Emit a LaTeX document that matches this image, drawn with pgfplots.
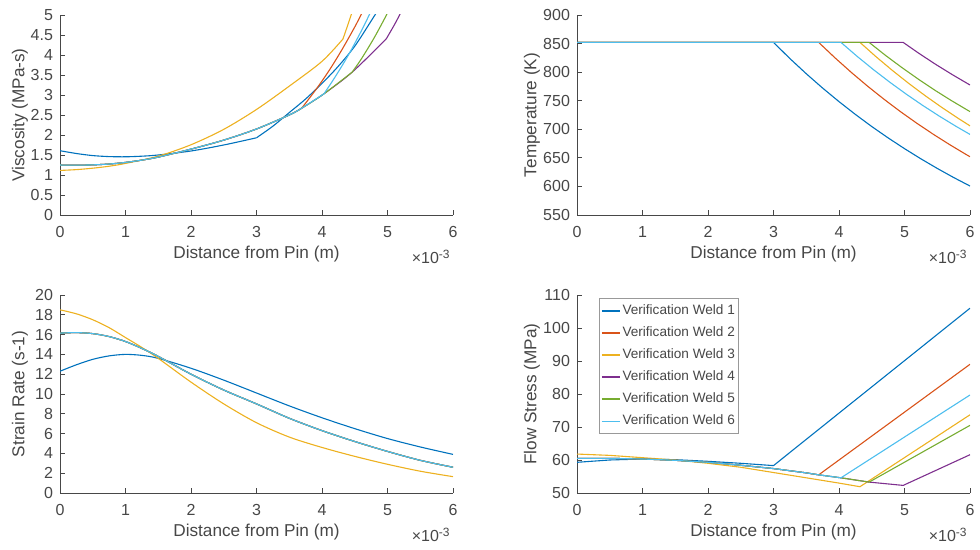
\documentclass[border=0pt]{standalone}
\usepackage{fontspec}
\setmainfont{Liberation Sans}
\usepackage{pgfplots}
\pgfplotsset{compat=1.18}
\definecolor{c1}{rgb}{0,0.447,0.741}
\definecolor{c2}{rgb}{0.850,0.325,0.098}
\definecolor{c3}{rgb}{0.929,0.694,0.125}
\definecolor{c4}{rgb}{0.494,0.184,0.556}
\definecolor{c5}{rgb}{0.466,0.674,0.188}
\definecolor{c6}{rgb}{0.301,0.745,0.933}
\definecolor{axc}{rgb}{0.28,0.28,0.28}
\pgfplotsset{
  mstyle/.style={
    scale only axis, width=196.5pt, height=100pt, anchor=south west,
    axis lines=left, axis line style={-, draw=axc, line width=0.4pt},
    tick align=inside, tick style={draw=axc, line width=0.4pt}, major tick length=2.5pt,
    xmin=0, xmax=6, xtick={0,1,2,3,4,5,6},
    tick label style={font=\fontsize{8}{9.5}\selectfont, text=axc},
    label style={font=\fontsize{8.6}{10}\selectfont, text=axc},
    /pgf/number format/assume math mode=true,
    xlabel={Distance from Pin (m)},
    xlabel style={at={(rel axis cs:0.5,-0.197)}, anchor=center},
    every axis plot/.append style={line width=0.55pt},
    xticklabel style={yshift=-2pt},
  },
}
\newcommand{\scalelab}[1]{\node[anchor=east, inner sep=0pt, font=\fontsize{8}{9.5}\selectfont, text=axc] at ([yshift=-21pt,xshift=-1pt]#1.south east) {×10\textsuperscript{-3}};}
\begin{document}
\begin{tikzpicture}
\path[use as bounding box] (0,0) rectangle (490pt,275pt);
% ---------- Viscosity ----------
\begin{axis}[mstyle, name=ax1, at={(30pt,167.5pt)}, ymin=0, ymax=5, ytick={0,0.5,1,1.5,2,2.5,3,3.5,4,4.5,5}, ylabel={Viscosity (MPa-s)},
  ylabel style={at={(rel axis cs:-0.1018,0.5)}, anchor=center}]
\addplot[c1, smooth] coordinates {(0,1.607)(0.25,1.537)(0.5,1.485)(0.75,1.46)(1,1.455)(1.25,1.47)(1.5,1.50)(2,1.60)(2.5,1.75)(3,1.93)};
\addplot[c1, smooth] coordinates {(3,1.93)(3.25,2.22)(3.5,2.56)(3.75,2.90)(4,3.29)(4.25,3.72)(4.5,4.22)(4.75,4.85)(5,5.5)};
\addplot[c2, smooth] coordinates {(0,1.249)(0.25,1.245)(0.5,1.253)(0.75,1.274)(1,1.314)(1.25,1.372)(1.5,1.447)(2,1.647)(2.5,1.872)(3,2.15)(3.5,2.5)(3.69,2.67)};
\addplot[c2, smooth] coordinates {(3.69,2.67)(3.9,3.12)(4.1,3.59)(4.3,4.12)(4.5,4.70)(4.6,5.02)(4.7,5.35)};
\addplot[c3, smooth] coordinates {(0,1.114)(0.25,1.134)(0.5,1.170)(0.75,1.219)(1,1.289)(1.5,1.471)(2,1.756)(2.5,2.141)(3,2.638)(3.5,3.221)(4,3.841)(4.32,4.40)};
\addplot[c3, smooth] coordinates {(4.32,4.40)(4.4,4.78)(4.46,5.08)(4.5,5.3)};
\addplot[c4, smooth] coordinates {(0,1.249)(0.25,1.245)(0.5,1.253)(0.75,1.274)(1,1.314)(1.25,1.372)(1.5,1.447)(2,1.647)(2.5,1.872)(3,2.15)(3.5,2.5)(3.69,2.67)(4.03,3.03)(4.46,3.57)(4.98,4.4)};
\addplot[c4, smooth] coordinates {(4.98,4.4)(5.1,4.74)(5.2,5.05)(5.3,5.4)};
\addplot[c5, smooth] coordinates {(0,1.249)(0.25,1.245)(0.5,1.253)(0.75,1.274)(1,1.314)(1.25,1.372)(1.5,1.447)(2,1.647)(2.5,1.872)(3,2.15)(3.5,2.5)(3.69,2.67)(4.03,3.03)(4.46,3.57)};
\addplot[c5, smooth] coordinates {(4.46,3.57)(4.6,3.90)(4.8,4.44)(5.0,5.05)(5.1,5.4)};
\addplot[c6, smooth] coordinates {(0,1.249)(0.25,1.245)(0.5,1.253)(0.75,1.274)(1,1.314)(1.25,1.372)(1.5,1.447)(2,1.647)(2.5,1.872)(3,2.15)(3.5,2.5)(3.69,2.67)(4.03,3.03)};
\addplot[c6, smooth] coordinates {(4.03,3.03)(4.2,3.45)(4.4,3.99)(4.6,4.60)(4.75,5.1)(4.85,5.45)};
\end{axis}
\scalelab{ax1}
% ---------- Temperature ----------
\begin{axis}[mstyle, name=ax2, at={(288.5pt,167.5pt)}, ymin=550, ymax=900, ytick={550,600,650,700,750,800,850,900}, ylabel={Temperature (K)},
  ylabel style={at={(rel axis cs:-0.115,0.5)}, anchor=center}]
\addplot[c1] coordinates {(0,852)(3,852)(3.25,823.8)(3.5,797.2)(3.75,772.1)(4,748.4)(4.25,726.0)(4.5,704.8)(4.75,684.9)(5,666.1)(5.25,648.3)(5.5,631.5)(5.75,615.6)(6,600.7)};
\addplot[c2] coordinates {(0,852)(3.69,852)(3.94,824.9)(4.19,799.3)(4.44,775.1)(4.69,752.3)(4.94,730.7)(5.19,710.4)(5.44,691.2)(5.69,673.1)(5.94,655.9)(6,652)};
\addplot[c3] coordinates {(0,852)(4.32,852)(4.57,826.5)(4.82,802.5)(5.07,779.8)(5.32,758.4)(5.57,738.2)(5.82,719.1)(6,706)};
\addplot[c4] coordinates {(0,852)(4.98,852)(5.23,832.1)(5.48,813.3)(5.73,795.6)(5.98,778.8)(6,777.5)};
\addplot[c5] coordinates {(0,852)(4.46,852)(4.71,829.3)(4.96,808)(5.21,787.8)(5.46,768.6)(5.71,750.6)(5.96,733.6)(6,731)};
\addplot[c6] coordinates {(0,852)(4.03,852)(4.28,827.3)(4.53,804)(4.78,782)(5.03,761.2)(5.28,741.6)(5.53,723.1)(5.78,705.6)(6,691)};
\end{axis}
\scalelab{ax2}
% ---------- Strain rate ----------
\begin{axis}[mstyle, name=ax3, at={(30pt,28.5pt)}, height=99pt, ymin=0, ymax=20, ytick={0,2,4,6,8,10,12,14,16,18,20}, ylabel={Strain Rate (s-1)},
  ylabel style={at={(rel axis cs:-0.1018,0.5)}, anchor=center}]
\addplot[c1, smooth] coordinates {(0,12.3)(0.25,12.95)(0.5,13.5)(0.75,13.85)(1,14.0)(1.25,13.9)(1.5,13.6)(2,12.6)(2.5,11.4)(3,10.1)(3.5,8.8)(4,7.6)(4.5,6.5)(5,5.5)(5.5,4.65)(6,3.9)};
\addplot[c2, smooth] coordinates {(0,16.15)(0.25,16.2)(0.5,16.1)(0.75,15.8)(1,15.3)(1.25,14.6)(1.5,13.8)(2,12.0)(2.5,10.4)(3,9.0)(3.5,7.55)(4,6.3)(4.5,5.2)(5,4.2)(5.5,3.3)(6,2.6)};
\addplot[c3, smooth] coordinates {(0,18.5)(0.25,18.1)(0.5,17.5)(0.75,16.7)(1,15.7)(1.25,14.7)(1.5,13.6)(2,11.2)(2.5,9.0)(3,7.1)(3.5,5.65)(4,4.6)(4.5,3.7)(5,2.9)(5.5,2.2)(6,1.65)};
\addplot[c4, smooth] coordinates {(0,16.15)(0.25,16.2)(0.5,16.1)(0.75,15.8)(1,15.3)(1.25,14.6)(1.5,13.8)(2,12.0)(2.5,10.4)(3,9.0)(3.5,7.55)(4,6.3)(4.5,5.2)(5,4.2)(5.5,3.3)(6,2.6)};
\addplot[c5, smooth] coordinates {(0,16.15)(0.25,16.2)(0.5,16.1)(0.75,15.8)(1,15.3)(1.25,14.6)(1.5,13.8)(2,12.0)(2.5,10.4)(3,9.0)(3.5,7.55)(4,6.3)(4.5,5.2)(5,4.2)(5.5,3.3)(6,2.6)};
\addplot[c6, smooth] coordinates {(0,16.15)(0.25,16.2)(0.5,16.1)(0.75,15.8)(1,15.3)(1.25,14.6)(1.5,13.8)(2,12.0)(2.5,10.4)(3,9.0)(3.5,7.55)(4,6.3)(4.5,5.2)(5,4.2)(5.5,3.3)(6,2.6)};
\end{axis}
\scalelab{ax3}
% ---------- Flow stress ----------
\begin{axis}[mstyle, name=ax4, at={(288.5pt,28.5pt)}, height=99pt, ymin=50, ymax=110, ytick={50,60,70,80,90,100,110}, ylabel={Flow Stress (MPa)},
  ylabel style={at={(rel axis cs:-0.115,0.5)}, anchor=center},
  legend style={at={(rel axis cs:0.056,0.985)}, anchor=north west, draw=black!40, fill=white, font=\fontsize{6.8}{8}\selectfont, text=axc, inner sep=0.8pt, row sep=0pt, nodes={inner xsep=1pt, inner ysep=2.3pt}},
  legend cell align=left,
  legend image code/.code={\draw[#1, line width=0.75pt] (0pt,0pt) -- (9pt,0pt);}]
\addplot[c1] coordinates {(0,59.3)(0.5,60.0)(1,60.3)(1.5,60.1)(2,59.6)(2.5,59.0)(3,58.3)(6,106.0)};
\addlegendentry{Verification Weld 1}
\addplot[c2] coordinates {(0,60.5)(0.5,60.5)(1,60.3)(1.5,59.9)(2,59.3)(2.5,58.4)(3,57.4)(3.5,56.1)(3.69,55.5)(6,89.0)};
\addlegendentry{Verification Weld 2}
\addplot[c3] coordinates {(0,61.8)(0.5,61.4)(1,60.7)(1.5,60.0)(2,59.0)(2.5,57.8)(3,56.2)(3.5,54.6)(4,53.0)(4.32,51.9)(6,73.7)};
\addlegendentry{Verification Weld 3}
\addplot[c4] coordinates {(0,60.5)(0.5,60.5)(1,60.3)(1.5,59.9)(2,59.3)(2.5,58.4)(3,57.4)(3.5,56.1)(3.69,55.5)(4.03,54.6)(4.46,53.3)(4.98,52.3)(6,61.6)};
\addlegendentry{Verification Weld 4}
\addplot[c5] coordinates {(0,60.5)(0.5,60.5)(1,60.3)(1.5,59.9)(2,59.3)(2.5,58.4)(3,57.4)(3.5,56.1)(3.69,55.5)(4.03,54.6)(4.46,53.3)(6,70.5)};
\addlegendentry{Verification Weld 5}
\addplot[c6] coordinates {(0,60.5)(0.5,60.5)(1,60.3)(1.5,59.9)(2,59.3)(2.5,58.4)(3,57.4)(3.5,56.1)(3.69,55.5)(4.03,54.6)(6,79.7)};
\addlegendentry{Verification Weld 6}
\end{axis}
\scalelab{ax4}
\end{tikzpicture}
\end{document}
